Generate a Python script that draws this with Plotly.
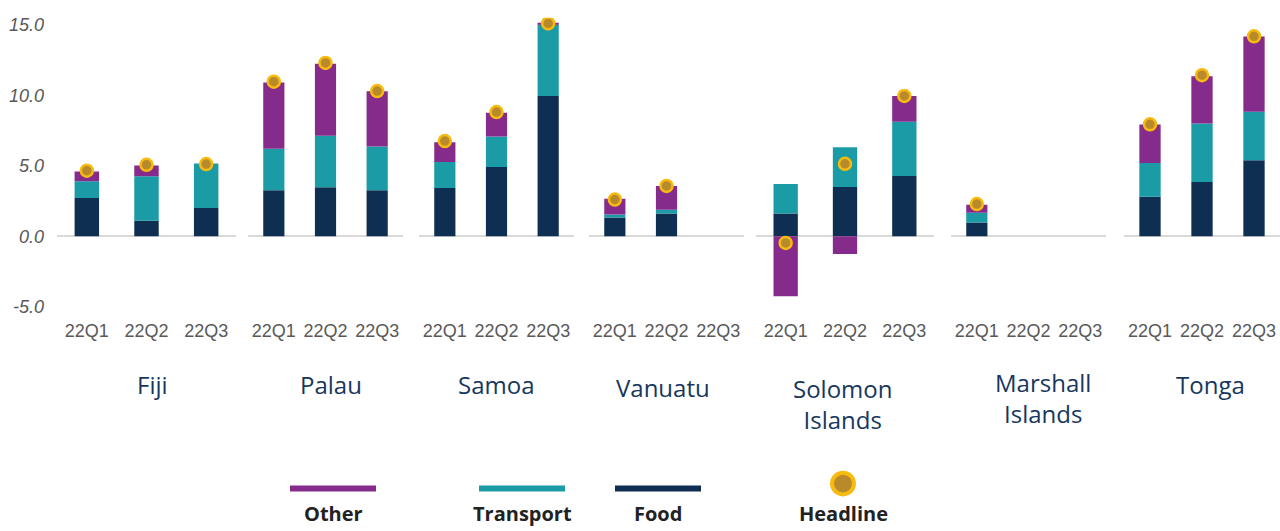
import plotly.graph_objects as go

W, H = 1280, 531

countries = ["Fiji", "Palau", "Samoa", "Vanuatu", "Solomon<br>Islands", "Marshall<br>Islands", "Tonga"]
quarters = ["22Q1", "22Q2", "22Q3"]

food = [
    [2.71, 1.10, 2.01],
    [3.27, 3.48, 3.27],
    [3.43, 4.91, 9.95],
    [1.33, 1.61, None],
    [1.61, 3.50, 4.27],
    [0.98, None, None],
    [2.80, 3.85, 5.40],
]
transport = [
    [1.19, 3.15, 3.15],
    [2.94, 3.65, 3.09],
    [1.83, 2.17, 5.07],
    [0.21, 0.28, None],
    [2.10, 2.81, 3.86],
    [0.70, None, None],
    [2.39, 4.14, 3.43],
]
other = [
    [0.70, 0.77, 0.0],
    [4.70, 5.11, 3.92],
    [1.40, 1.68, 0.07],
    [1.12, 1.68, None],
    [-4.25, -1.26, 1.82],
    [0.56, None, None],
    [2.73, 3.36, 5.33],
]
headline = [
    [4.65, 5.07, 5.12],
    [10.96, 12.29, 10.30],
    [6.75, 8.81, 15.09],
    [2.61, 3.57, None],
    [-0.47, 5.14, 9.95],
    [2.29, None, None],
    [7.94, 11.42, 14.18],
]
y_ticks = [-5, 0, 5, 10, 15]
y_tick_text = ["-5.0", "0.0", "5.0", "10.0", "15.0"]

# layout geometry (pixels)
panel_px = [(57, 236), (248, 403), (419, 574), (589, 744), (756, 934), (951, 1106), (1124, 1280)]
label_px = [(152, 386), (331, 386), (496, 386), (663, 389), (842, 406), (1043, 400), (1210, 386)]
zero_px, unit_px = 236, 14.27
y_range = [-5.5, 15.5]

C_FOOD = "#0f2f52"
C_TRANS = "#1a9ba6"
C_OTHER = "#852b8c"
C_HEAD_FILL = "#b88a2c"
C_HEAD_LINE = "#f7bb0e"

def px_x(p):
    return p / W

def px_y(p):
    return 1 - p / H

fig = go.Figure()
for i in range(len(countries)):
    xa = "x" if i == 0 else f"x{i+1}"
    for name, vals, col in [("Food", food[i], C_FOOD), ("Transport", transport[i], C_TRANS), ("Other", other[i], C_OTHER)]:
        fig.add_trace(go.Bar(x=quarters, y=vals, name=name, marker=dict(color=col, line=dict(width=0)),
                             xaxis=xa, yaxis="y", showlegend=False))
    fig.add_trace(go.Scatter(x=quarters, y=headline[i], mode="markers", name="Headline",
                             marker=dict(size=12, color=C_HEAD_FILL, line=dict(color=C_HEAD_LINE, width=2.5)),
                             xaxis=xa, yaxis="y", showlegend=False))

top_px = zero_px - y_range[1] * unit_px
bot_px = zero_px - y_range[0] * unit_px

layout = dict(
    width=W, height=H,
    margin=dict(l=0, r=0, t=0, b=0),
    paper_bgcolor="white", plot_bgcolor="white",
    barmode="relative", bargap=0.59,
    showlegend=False,
    yaxis=dict(domain=[px_y(bot_px), px_y(top_px)], range=y_range, anchor="x",
               tickmode="array", tickvals=y_ticks, ticktext=y_tick_text, showgrid=False,
               zeroline=True, zerolinecolor="#d9d9d9", zerolinewidth=2,
               showline=False, ticks="", ticklabelstandoff=12,
               tickfont=dict(family="Liberation Sans, Arial", size=18, color="#595959", style="italic")),
)
for i, (a, b) in enumerate(panel_px):
    key = "xaxis" if i == 0 else f"xaxis{i+1}"
    layout[key] = dict(domain=[px_x(a), px_x(b)], anchor="y", type="category",
                       categoryorder="array", categoryarray=quarters, range=[-0.5, 2.5],
                       showgrid=False, zeroline=False, showline=False, ticks="",
                       ticklabelstandoff=4,
                       tickfont=dict(family="Liberation Sans, Arial", size=18, color="#595959"))
fig.update_layout(**layout)

# country labels
for name, (cx, cy) in zip(countries, label_px):
    fig.add_annotation(x=px_x(cx), y=px_y(cy), xref="paper", yref="paper", text=name,
                       showarrow=False, xanchor="center", yanchor="middle",
                       font=dict(family="Open Sans", size=24, color="#17375e"))

# custom legend
legend_items = [("Other", C_OTHER, 333), ("Transport", C_TRANS, 522), ("Food", C_FOOD, 658)]
for name, col, cx in legend_items:
    fig.add_shape(type="line", xref="paper", yref="paper",
                  x0=px_x(cx - 43), x1=px_x(cx + 43), y0=px_y(491), y1=px_y(491),
                  line=dict(color=col, width=6))
    fig.add_annotation(x=px_x(cx), y=px_y(516), xref="paper", yref="paper", text=f"<b>{name}</b>",
                       showarrow=False, xanchor="center", yanchor="middle",
                       font=dict(family="Open Sans", size=20, color="#222222"))
hx = 843
fig.add_shape(type="circle", xref="paper", yref="paper",
              x0=px_x(hx - 11), x1=px_x(hx + 11), y0=px_y(486 + 11), y1=px_y(486 - 11),
              fillcolor=C_HEAD_FILL, line=dict(color=C_HEAD_LINE, width=4))
fig.add_annotation(x=px_x(hx), y=px_y(516), xref="paper", yref="paper", text="<b>Headline</b>",
                   showarrow=False, xanchor="center", yanchor="middle",
                   font=dict(family="Open Sans", size=20, color="#222222"))

fig.write_html("out.html", config={"displayModeBar": False},
               post_script="document.body.style.margin='0';document.body.style.overflow='hidden';")
